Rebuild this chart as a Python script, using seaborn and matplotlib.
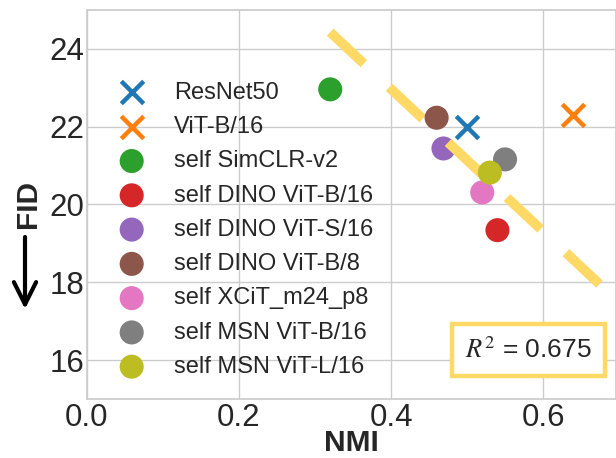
import matplotlib
matplotlib.use("Agg")
import matplotlib.pyplot as plt
import seaborn as sns

# ---- data ----
names = ["ResNet50", "ViT-B/16", "self SimCLR-v2", "self DINO ViT-B/16",
         "self DINO ViT-S/16", "self DINO ViT-B/8", "self XCiT_m24_p8",
         "self MSN ViT-B/16", "self MSN ViT-L/16"]
nmi = [0.500, 0.640, 0.320, 0.540, 0.469, 0.460, 0.520, 0.550, 0.530]
fid = [22.00, 22.30, 22.96, 19.34, 21.44, 22.23, 20.31, 21.16, 20.82]
markers = ["x", "x", "o", "o", "o", "o", "o", "o", "o"]
fit_x = [0.320, 0.675]
fit_y = [24.43, 17.94]
r2_text = r"$R^2$ = 0.675"
x_ticks = [0.0, 0.2, 0.4, 0.6]
y_ticks = [16, 18, 20, 22, 24]

sns.set_theme(style="whitegrid")
plt.rcParams["font.family"] = ["Liberation Sans", "DejaVu Sans"]
plt.rcParams["mathtext.fontset"] = "stix"

colors = sns.color_palette("tab10", len(names))

fig = plt.figure(figsize=(6.16, 4.58), dpi=100)
ax = fig.add_axes([87 / 616, 59 / 458, 529 / 616, 389 / 458])

for i, (n, x, y, m) in enumerate(zip(names, nmi, fid, markers)):
    if m == "x":
        sns.scatterplot(x=[x], y=[y], marker="x", s=260, color=colors[i],
                        linewidth=3.2, label=n, ax=ax, zorder=3)
    else:
        sns.scatterplot(x=[x], y=[y], marker="o", s=300, color=colors[i],
                        edgecolor="none", label=n, ax=ax, zorder=3)
    if i == 4:
        sns.lineplot(x=fit_x, y=fit_y, color="#FFD966", linewidth=7,
                     dashes=False, ax=ax, zorder=3, legend=False)
        ax.lines[-1].set_dashes([4.73, 3.57])
        ax.lines[-1].set_dash_capstyle("butt")

ax.set_xlim(0, 0.696)
ax.set_ylim(15, 25)
ax.set_xticks(x_ticks)
ax.set_yticks(y_ticks)
ax.tick_params(axis="both", labelsize=22.5, length=0)
ax.tick_params(axis="y", pad=2)
ax.tick_params(axis="x", pad=3)
ax.set_xlabel("NMI", fontsize=21.5, fontweight="bold", labelpad=-3)
ax.set_ylabel("FID", fontsize=21.5, fontweight="bold", labelpad=5)
for s in ax.spines.values():
    s.set_color("#cccccc")

leg = ax.legend(loc="upper left", bbox_to_anchor=(0.022, 0.84), borderaxespad=0,
                frameon=False, fontsize=17, handletextpad=0.8, labelspacing=0.52,
                markerscale=1.0)

ax.text(0.834, 0.126, r2_text, transform=ax.transAxes, fontsize=19,
        ha="center", va="center", zorder=5,
        bbox=dict(boxstyle="square,pad=0.5", facecolor="white",
                  edgecolor="#FFD966", linewidth=3.2))

ax.annotate("", xy=(25, 458 - 309), xytext=(25, 458 - 237),
            xycoords="figure pixels", textcoords="figure pixels",
            arrowprops=dict(arrowstyle="->,head_length=0.4,head_width=0.2",
                            lw=3, color="black", mutation_scale=40,
                            shrinkA=0, shrinkB=0))

fig.savefig("out.png", dpi=100)
